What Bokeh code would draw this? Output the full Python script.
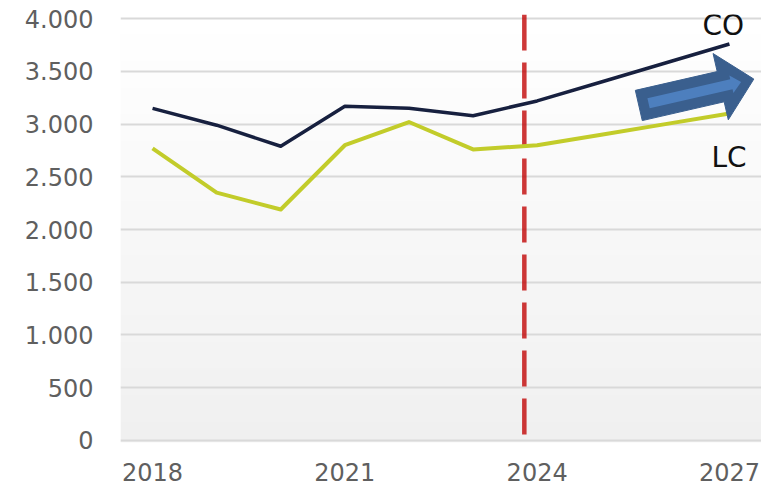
import numpy as np
from bokeh.plotting import figure
from bokeh.models import FixedTicker, Range1d
from bokeh.core.properties import value
from bokeh.embed import file_html
from bokeh.resources import INLINE

# ---- data ----
years = [2018, 2019, 2020, 2021, 2022, 2023, 2024, 2025, 2026, 2027]
co_values = [3150, 2990, 2790, 3170, 3150, 3080, 3220, 3400, 3580, 3760]
lc_values = [2770, 2350, 2190, 2800, 3020, 2760, 2800, 2900, 3000, 3100]
series_names = ["CO", "LC"]
x_ticks = [2018, 2021, 2024, 2027]
x_labels = ["2018", "2021", "2024", "2027"]
y_ticks = [0, 500, 1000, 1500, 2000, 2500, 3000, 3500, 4000]
y_labels = ["0", "500", "1.000", "1.500", "2.000", "2.500", "3.000", "3.500", "4.000"]
divider_year = 2023.8

# ---- layout / style ----
X0, X1 = 2017.5, 2027.5
Y0, Y1 = -20, 4040
FONT = "DejaVu Sans"
TICK_COLOR = "#5f5f5f"

p = figure(width=761, height=485,
           x_range=Range1d(X0, X1), y_range=Range1d(Y0, Y1),
           output_backend="svg", toolbar_location=None,
           min_border_left=120, min_border_right=0,
           min_border_top=14, min_border_bottom=43)
p.outline_line_color = None
p.background_fill_color = "white"
p.border_fill_color = "white"

# gradient plot-area background
N = 64
img = np.empty((N, 1), dtype=np.uint32)
view = img.view(dtype=np.uint8).reshape((N, 1, 4))
for i in range(N):
    c = int(round(240 + 15 * i / (N - 1)))
    view[i, 0, :] = [c, c, c, 255]
p.image_rgba(image=[img], x=X0, y=Y0, dw=X1 - X0, dh=Y1 - Y0, level="image")

# grid
p.xgrid.visible = False
p.ygrid.ticker = FixedTicker(ticks=y_ticks)
p.ygrid.grid_line_color = "#d9d9d9"
p.ygrid.grid_line_width = 2

# axes
p.yaxis.ticker = FixedTicker(ticks=y_ticks)
p.yaxis.major_label_overrides = {t: l for t, l in zip(y_ticks, y_labels)}
p.xaxis.ticker = FixedTicker(ticks=x_ticks)
p.xaxis.major_label_overrides = {t: l for t, l in zip(x_ticks, x_labels)}
for ax in (p.xaxis, p.yaxis):
    ax.axis_line_color = None
    ax.major_tick_line_color = None
    ax.minor_tick_line_color = None
    ax.major_tick_out = 0
    ax.major_tick_in = 0
    ax.major_label_text_font = FONT
    ax.major_label_text_font_size = "24px"
    ax.major_label_text_color = TICK_COLOR
p.yaxis.major_label_standoff = 27
p.xaxis.major_label_standoff = 20

# divider line
p.segment(x0=[divider_year], y0=[Y1], x1=[divider_year], y1=[0],
          line_color="#c00000", line_alpha=0.78, line_width=4.5,
          line_dash="36 12")

# series
p.line(years, co_values, line_color="#17203f", line_width=3.5, line_join="round")
p.line(years, lc_values, line_color="#c2cc2a", line_width=4, line_join="round")

# series labels
p.text(x=[2026.58, 2026.72], y=[3934, 2681], text=series_names,
       text_font=value(FONT), text_font_size="28px", text_color="#111111",
       text_baseline="alphabetic", text_align="left")

# block arrow annotation
PX_X = 641 / (X1 - X0)
PX_Y = 421.5 / 4000
UX, UY = 0.9746, 0.2237
ARROW_TAIL = (2025.586, 3177)

def arrow_poly(start, shaft_hw, head_base, head_hw, tip):
    local = [(start, shaft_hw), (head_base, shaft_hw), (head_base, head_hw),
             (tip, 0), (head_base, -head_hw), (head_base, -shaft_hw),
             (start, -shaft_hw)]
    xs = [ARROW_TAIL[0] + (a * UX - b * UY) / PX_X for a, b in local]
    ys = [ARROW_TAIL[1] + (a * UY + b * UX) / PX_Y for a, b in local]
    return xs, ys

ox, oy = arrow_poly(0, 15.5, 84, 34, 118)
ix, iy = arrow_poly(10, 5.2, 95, 9, 105)
p.patch(ox, oy, fill_color="#3a5f8e", line_color="#3a5f8e", line_width=1)
p.patch(ix, iy, fill_color="#4d7fbe", line_color=None)

open("out.html", "w").write(file_html(p, INLINE))
